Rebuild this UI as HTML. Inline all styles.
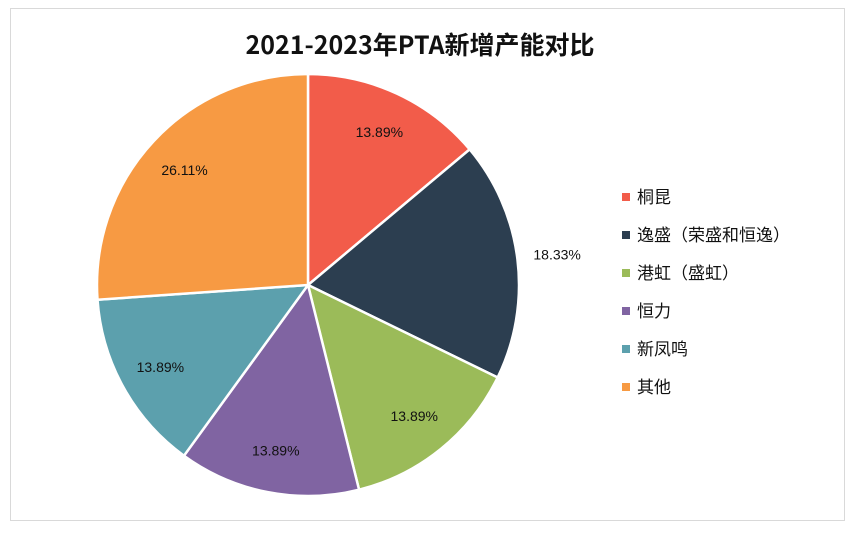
<!DOCTYPE html>
<html><head><meta charset="utf-8"><style>
body{margin:0;background:#fff;}
svg text{font-family:"Liberation Sans","Noto Sans CJK SC",sans-serif;}
</style></head><body>
<svg width="855" height="529">
<rect x="10.5" y="8.5" width="834" height="512" fill="#fff" stroke="#d9d9d9"/>
<text x="420" y="54" text-anchor="middle" font-size="25" font-weight="bold" fill="#111" style="font-family:'Liberation Sans Narrow','Noto Sans CJK SC',sans-serif">2021-2023年PTA新增产能对比</text>
<g id="slices"></g><g id="labels"></g><g id="legend"></g>
</svg>
<script>
const categories=["桐昆","逸盛（荣盛和恒逸）","港虹（盛虹）","恒力","新凤鸣","其他"];
const values=[13.89,18.33,13.89,13.89,13.89,26.11];
const valueLabels=["13.89%","18.33%","13.89%","13.89%","13.89%","26.11%"];
const colors=["#F25C4A","#2C3E50","#9BBB59","#8064A2","#5CA0AD","#F79A43"];
const ns="http://www.w3.org/2000/svg";
const cx=308,cy=285,r=211;
const total=values.reduce((a,b)=>a+b,0);
const sg=document.getElementById('slices'),lg=document.getElementById('labels'),leg=document.getElementById('legend');
let cum=0;
function pt(a,d){return [cx+Math.sin(a)*d,cy-Math.cos(a)*d];}
values.forEach((v,i)=>{
 const a0=cum/total*2*Math.PI;cum+=v;const a1=cum/total*2*Math.PI;
 const p0=pt(a0,r),p1=pt(a1,r);
 const p=document.createElementNS(ns,'path');
 p.setAttribute('d',`M${cx},${cy}L${p0[0]},${p0[1]}A${r},${r} 0 ${a1-a0>Math.PI?1:0} 1 ${p1[0]},${p1[1]}Z`);
 p.setAttribute('fill',colors[i]);p.setAttribute('stroke','#fff');p.setAttribute('stroke-width','2.5');
 
 
 sg.appendChild(p);
 const am=(a0+a1)/2;const outside=(i===1);
 const lp=pt(am,outside?r+40:r*0.8);
 const t=document.createElementNS(ns,'text');
 t.setAttribute('x',lp[0]);t.setAttribute('y',lp[1]+5);
 t.setAttribute('text-anchor','middle');t.setAttribute('font-size','14');t.setAttribute('fill','#111');
 t.textContent=valueLabels[i];
 
 
 lg.appendChild(t);
 const y=197+i*38;
 const g=document.createElementNS(ns,'g');
 
 
 const s=document.createElementNS(ns,'rect');
 s.setAttribute('x',622);s.setAttribute('y',y-4);s.setAttribute('width',8);s.setAttribute('height',8);s.setAttribute('fill',colors[i]);
 const lt=document.createElementNS(ns,'text');
 lt.setAttribute('x',637);lt.setAttribute('y',y+6);lt.setAttribute('font-size','17');lt.setAttribute('fill','#111');
 lt.textContent=categories[i];
 g.appendChild(s);g.appendChild(lt);leg.appendChild(g);
});
</script>
</body></html>
